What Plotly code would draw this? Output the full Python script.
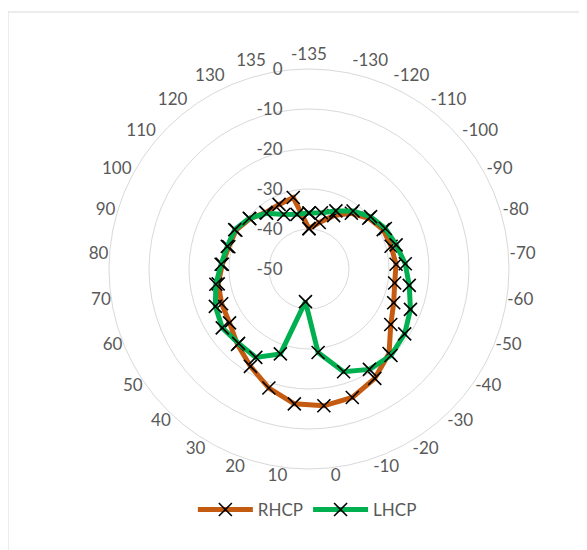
import plotly.graph_objects as go

categories = ["-135", "-130", "-120", "-110", "-100", "-90", "-80", "-70", "-60", "-50",
              "-40", "-30", "-20", "-10", "0", "10", "20", "30", "40", "50",
              "60", "70", "80", "90", "100", "110", "120", "130", "135"]

rhcp = [-39.9, -38.1, -35.3, -32.5, -30.4, -29.0, -28.7, -28.2, -28.3, -27.2,
        -25.3, -20.9, -18.1, -16.1, -15.6, -16.1, -18.6, -21.6, -24.0, -26.0,
        -26.5, -27.0, -28.3, -29.2, -29.3, -30.6, -32.2, -32.2, -31.7]

lhcp = [-36.0, -35.6, -34.0, -31.8, -29.8, -28.4, -27.4, -25.9, -24.6, -22.7,
        -21.1, -20.2, -20.7, -22.9, -29.0, -41.8, -27.6, -24.2, -24.4, -23.8,
        -24.8, -26.4, -28.0, -28.8, -29.0, -30.4, -32.5, -35.0, -36.0]

radial_ticks = [0, -10, -20, -30, -40, -50]

FONT = "Lato"
GRAY_TXT = "#595959"
GRID = "#d9d9d9"

fig = go.Figure()
for name, vals, color in [("RHCP", rhcp, "#C55A11"), ("LHCP", lhcp, "#00B050")]:
    fig.add_trace(go.Scatterpolar(
        r=vals + [vals[0]],
        theta=categories + [categories[0]],
        mode="lines+markers",
        name=name,
        line=dict(color=color, width=5),
        marker=dict(symbol="x-thin", size=13, color="black",
                    line=dict(color="black", width=1.6)),
        subplot="polar",
    ))

# invisible trace that carries the category labels on the label-only overlay
fig.add_trace(go.Scatterpolar(
    r=[None] * len(categories), theta=categories, mode="lines",
    showlegend=False, hoverinfo="skip", subplot="polar2",
))

W, H = 587, 550
cx, cy, R = 301, 261, 200
lx, ly, LR = 301, 256, 195
fig.update_layout(
    width=W, height=H,
    margin=dict(l=0, r=0, t=0, b=0),
    paper_bgcolor="white",
    plot_bgcolor="white",
    font=dict(family=FONT, color=GRAY_TXT, size=17),
    polar=dict(
        domain=dict(x=[(cx - R) / W, (cx + R) / W],
                    y=[(H - cy - R) / H, (H - cy + R) / H]),
        bgcolor="white",
        gridshape="circular",
        radialaxis=dict(
            range=[-50, 0], tickvals=radial_ticks,
            ticktext=[str(v) for v in radial_ticks],
            angle=90, side="counterclockwise",
            showline=False, ticks="outside", ticklen=20, tickcolor="rgba(0,0,0,0)",
            gridcolor=GRID, gridwidth=1,
            tickfont=dict(size=17, color=GRAY_TXT, family=FONT), tickangle=90,
        ),
        angularaxis=dict(
            type="category", categoryarray=categories, categoryorder="array",
            direction="clockwise", rotation=90,
            showgrid=False, ticks="", showticklabels=False,
            showline=True, linecolor=GRID, linewidth=1,
        ),
    ),
    polar2=dict(
        domain=dict(x=[(lx - LR) / W, (lx + LR) / W],
                    y=[(H - ly - LR) / H, (H - ly + LR) / H]),
        bgcolor="rgba(0,0,0,0)",
        radialaxis=dict(visible=False, range=[-50, 0]),
        angularaxis=dict(
            type="category", categoryarray=categories, categoryorder="array",
            direction="clockwise", rotation=90,
            showgrid=False, showline=False, ticks="outside", ticklen=2,
            tickcolor="rgba(0,0,0,0)",
            tickfont=dict(size=17, color=GRAY_TXT, family=FONT),
        ),
    ),
    showlegend=True,
    legend=dict(orientation="h", x=0.510, xanchor="center", y=(H - 502) / H, yanchor="middle",
                bgcolor="rgba(0,0,0,0)", itemwidth=55,
                font=dict(size=17, color=GRAY_TXT, family=FONT)),
    shapes=[dict(type="rect", xref="paper", yref="paper",
                 x0=0, x1=1.2, y0=-0.2, y1=1 - 4 / H,
                 line=dict(color=GRID, width=1), fillcolor="rgba(0,0,0,0)", layer="below")],
)

fig.write_html("out.html")
